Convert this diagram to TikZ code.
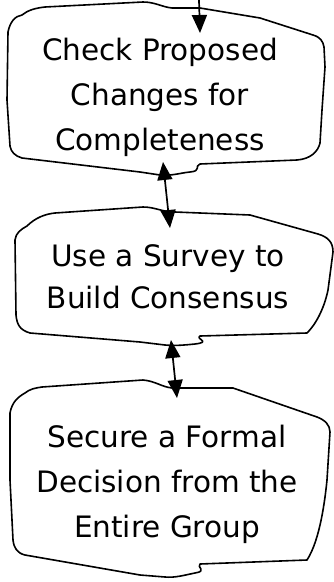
\documentclass[tikz,border=0pt]{standalone}
\usepackage{fontspec}
\setmainfont{DejaVu Sans}
\usetikzlibrary{arrows.meta}
\begin{document}
\begin{tikzpicture}[x=1pt,y=-1pt,
  blob/.style={draw=black, line width=1.6pt, line join=round},
  lbl/.style={align=center, font=\fontsize{29.5}{45}\selectfont, inner sep=0pt},
  conn/.style={line width=1.7pt, -{Triangle[length=18pt,width=15pt]}},
  conn2/.style={line width=1.7pt, {Triangle[length=18pt,width=15pt]}-{Triangle[length=18pt,width=15pt]}}]
\useasboundingbox (0,0) rectangle (334,582);
% box 1
\draw[blob] (8,32) .. controls (10,22) and (15,16) .. (22,15)
  .. controls (28,10) and (36,8) .. (45,7) -- (143,2)
  .. controls (155,2) and (162,7) .. (172,8) -- (200,8) -- (260,18) -- (313,35)
  .. controls (320,37) and (323,41) .. (324,47) -- (325,67) -- (322,110) -- (320,143)
  .. controls (318,152) and (310,159) .. (297,160) -- (200,164)
  .. controls (194,166) and (202,171) .. (190,172)
  .. controls (180,173) and (172,176) .. (160,175) -- (140,172) -- (22,158)
  .. controls (15,156) and (11,152) .. (10,146) -- (7,100) -- cycle;
\node[lbl] (n1) at (160,97) {Check Proposed\\Changes for\\Completeness};
% box 2
\draw[blob] (15,240) .. controls (16,233) and (20,230) .. (27,226)
  .. controls (35,218) and (45,214) .. (55,213) -- (143,207)
  .. controls (155,207) and (162,212) .. (175,212) -- (250,215) -- (318,234)
  .. controls (328,237) and (333,242) .. (333,252) -- (328,290)
  .. controls (326,300) and (320,320) .. (307,333) -- (200,336)
  .. controls (195,339) and (212,342) .. (195,344)
  .. controls (185,345) and (175,346) .. (165,345) -- (140,342) -- (30,333)
  .. controls (20,330) and (17,325) .. (16,315) -- cycle;
\node[lbl, font=\fontsize{29.5}{42}\selectfont] (n2) at (168,277) {Use a Survey to\\Build Consensus};
% box 3
\draw[blob] (10,413) .. controls (12,402) and (18,397) .. (25,393)
  .. controls (30,389) and (35,388) .. (42,387) -- (143,380)
  .. controls (155,381) and (162,387) .. (172,388) -- (233,388) -- (317,417)
  .. controls (325,420) and (330,425) .. (330,432) -- (327,480)
  .. controls (325,500) and (320,540) .. (307,560) -- (200,564)
  .. controls (196,567) and (208,571) .. (195,573)
  .. controls (185,575) and (175,578) .. (165,577) -- (140,575) -- (25,555)
  .. controls (17,553) and (14,548) .. (13,540) -- (10,480) -- cycle;
\node[lbl] (n3) at (167,484) {Secure a Formal\\Decision from the\\Entire Group};
% connectors
\coordinate (t0) at (199,0);
\coordinate (t1) at (200,33);
\coordinate (b1) at (163,162);
\coordinate (u2) at (170,228);
\coordinate (b2) at (171,340);
\coordinate (u3) at (177,398);
\draw[conn] (t0) -- (t1);
\draw[conn2] (b1) -- (u2);
\draw[conn2] (b2) -- (u3);
\end{tikzpicture}
\end{document}
